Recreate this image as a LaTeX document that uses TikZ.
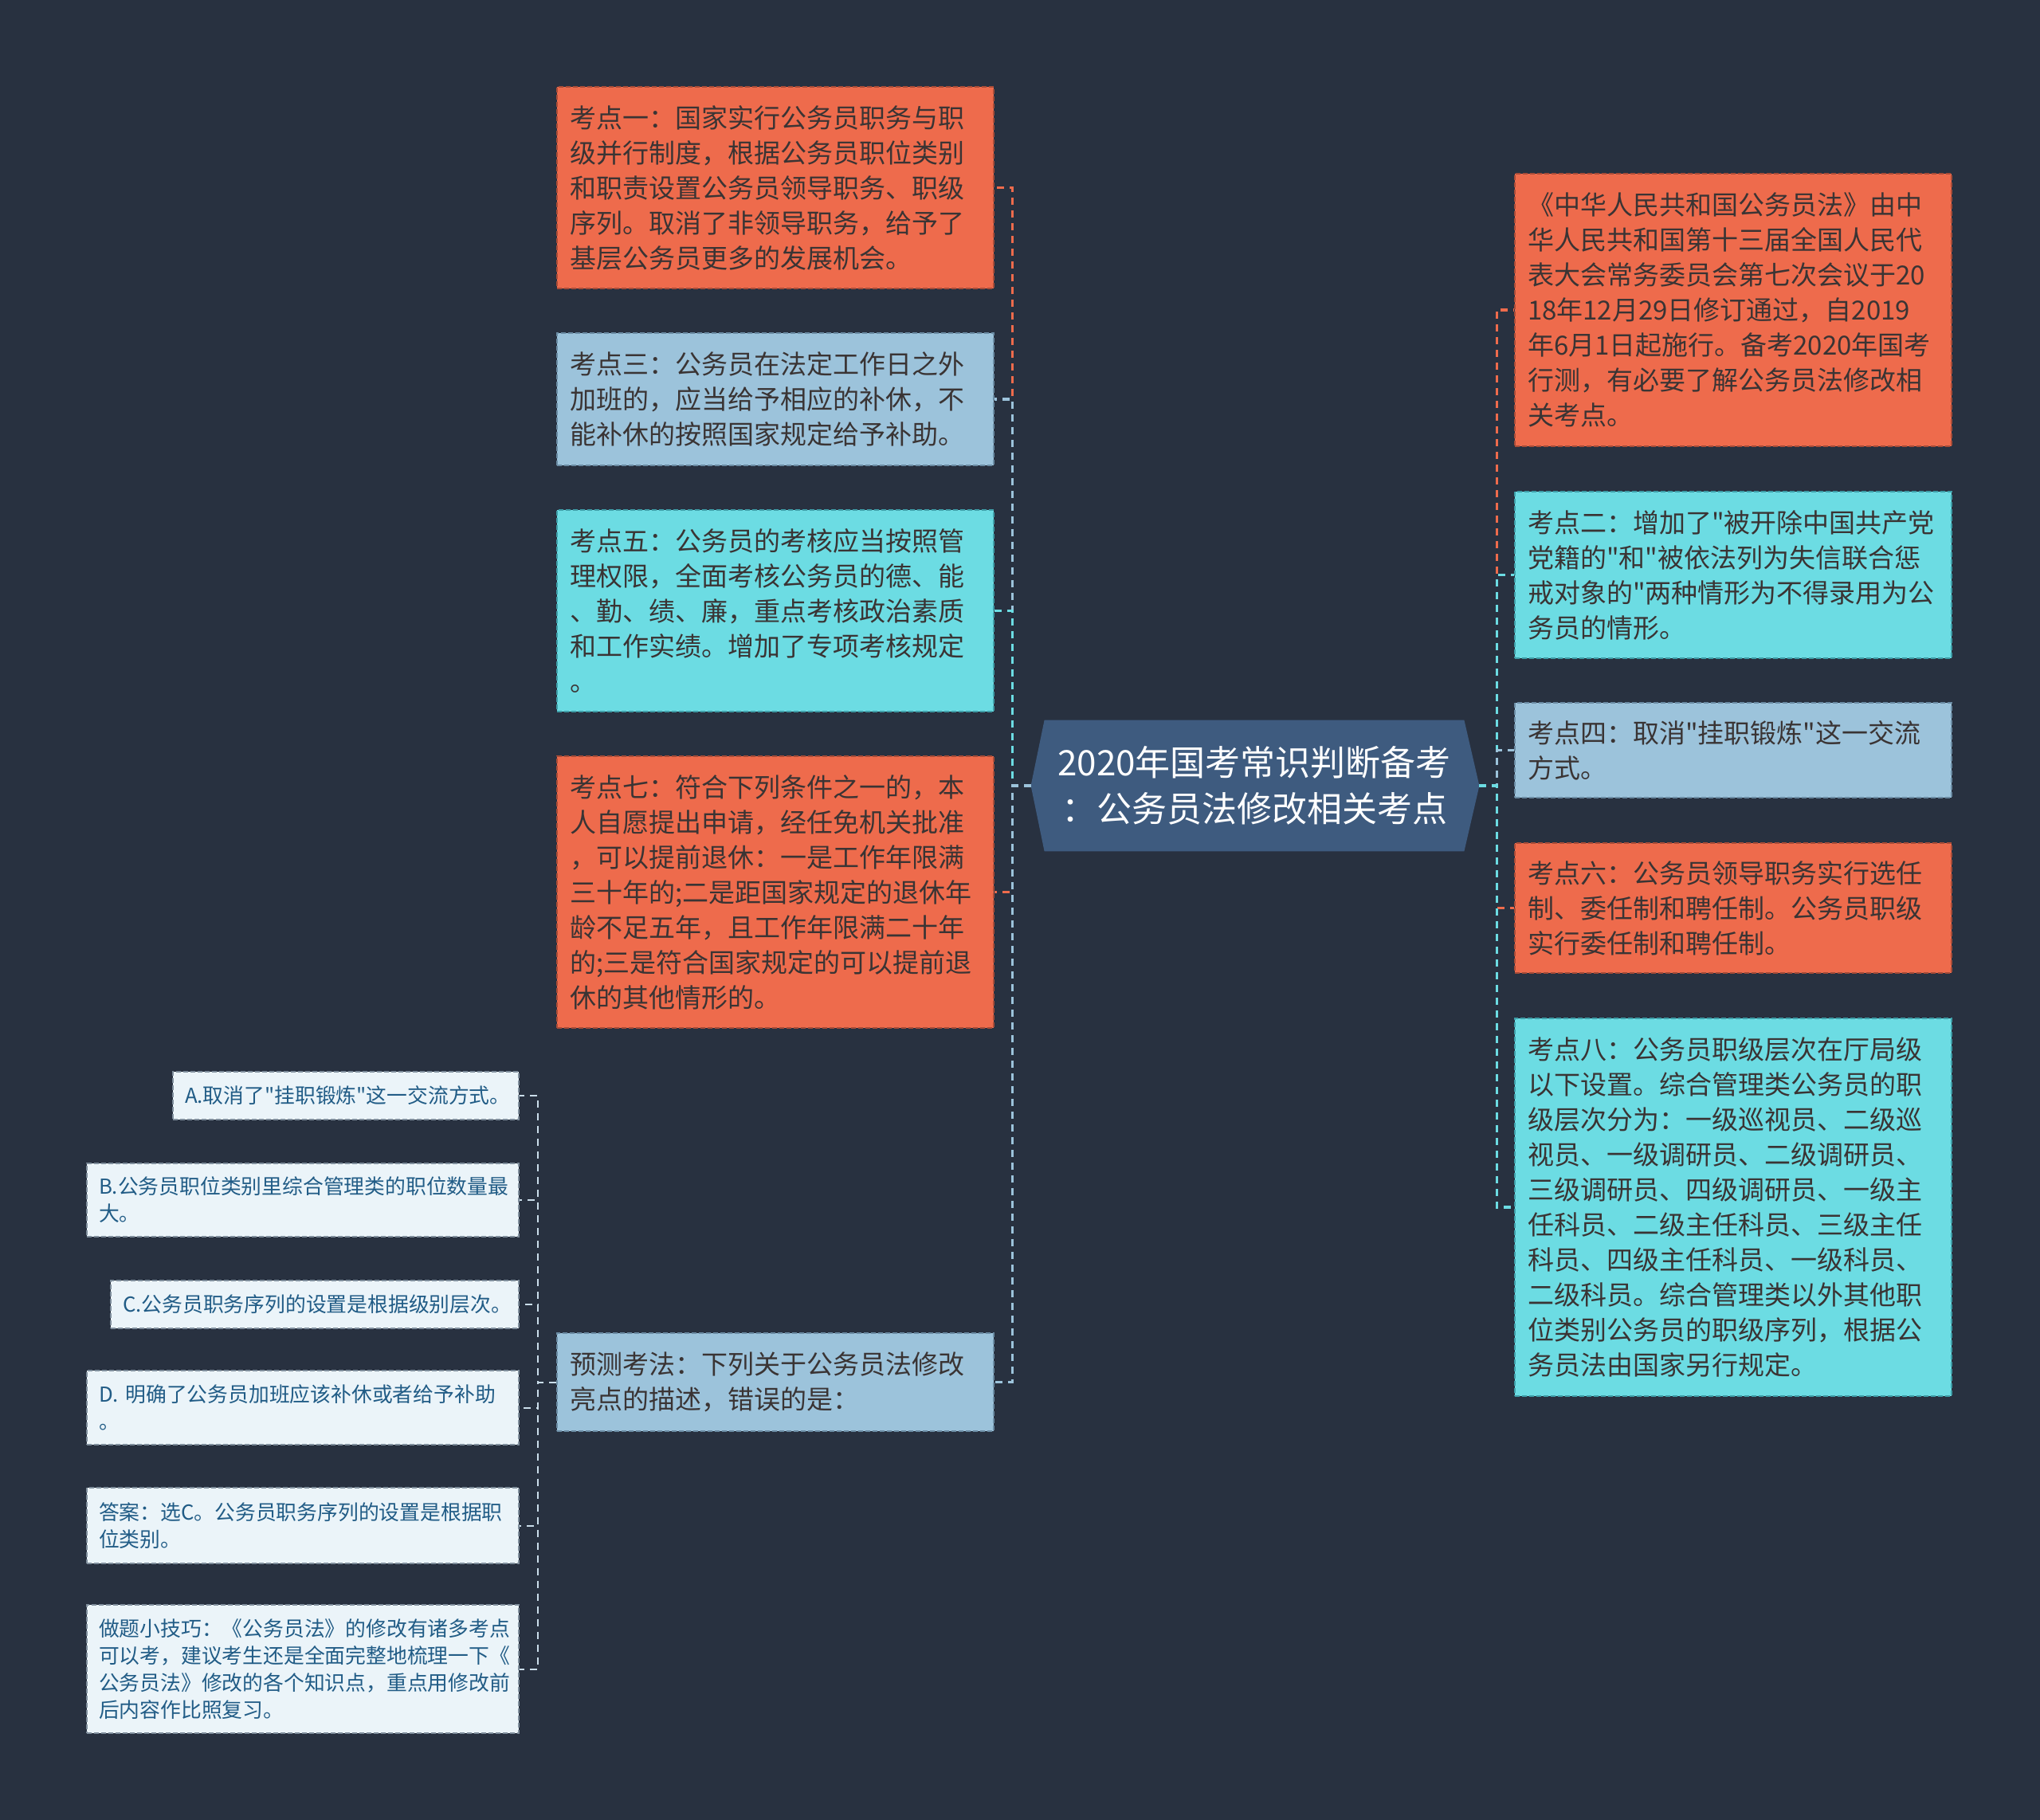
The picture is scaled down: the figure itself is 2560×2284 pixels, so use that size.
\documentclass[tikz,border=0pt]{standalone}
\usepackage{fontspec}
\setmainfont{Noto Sans CJK SC}[Ligatures=TeXOff]
\usetikzlibrary{calc}
\definecolor{bgc}{HTML}{283140}
\definecolor{corange}{HTML}{EE6B4C}
\definecolor{borange}{HTML}{A84C38}
\definecolor{csteel}{HTML}{9CC3DB}
\definecolor{bsteel}{HTML}{6A8BA3}
\definecolor{ccyan}{HTML}{6CDCE3}
\definecolor{bcyan}{HTML}{3E9EA8}
\definecolor{ccenter}{HTML}{3E5B7F}
\definecolor{cpale}{HTML}{EBF4F9}
\definecolor{bpale}{HTML}{7F8E9C}
\definecolor{tpale}{HTML}{215C86}
\definecolor{lpale}{HTML}{CADDEA}
\definecolor{tdark}{HTML}{3A3434}
\pgfdeclarelayer{bg}
\pgfsetlayers{bg,main}
\tikzset{
  mainbox/.style={rectangle, inner xsep=8pt, inner ysep=0pt, align=left,
    text width=258pt, minimum width=274pt, text=tdark,
    font=\fontsize{16.5pt}{22pt}\selectfont,
    line width=0.8pt, dash pattern=on 3pt off 1.5pt},
  orangebox/.style={mainbox, fill=corange, draw=borange},
  steelbox/.style={mainbox, fill=csteel, draw=bsteel},
  cyanbox/.style={mainbox, fill=ccyan, draw=bcyan},
  palebox/.style={rectangle, inner xsep=7.5pt, inner ysep=0pt, align=left,
    text=tpale, fill=cpale, draw=bpale,
    font=\fontsize{12.9pt}{17pt}\selectfont,
    line width=0.8pt, dash pattern=on 3pt off 1.5pt},
  centerbox/.style={rectangle, inner sep=0pt, align=center, text=white,
    minimum width=263pt, minimum height=82pt,
    font=\fontsize{22pt}{29pt}\selectfont},
  conn/.style={line width=1.6pt, dash pattern=on 4.5pt off 3.5pt},
  pconn/.style={line width=1pt, draw=lpale, dash pattern=on 4.5pt off 3.5pt}
}
\begin{document}
\begin{tikzpicture}[x=0.5pt,y=-0.5pt]
\begin{pgfonlayer}{bg}
\fill[bgc] (0,0) rectangle (2560,2284);
\end{pgfonlayer}
\useasboundingbox (0,0) rectangle (2560,2284);

% center
\node[centerbox] (c) at (1574,986) {2020年国考常识判断备考\\：公务员法修改相关考点};
\coordinate (cL) at ($(c.west)+(-17,0)$);
\coordinate (cR) at ($(c.east)+(19,0)$);
\begin{pgfonlayer}{bg}
\fill[ccenter] (c.north west) -- (cL) -- (c.south west) -- (c.south east) -- (cR) -- (c.north east) -- cycle;
\end{pgfonlayer}

% left column
\node[orangebox, minimum height=126.5pt] (k1) at (973,235.5) {考点一：国家实行公务员职务与职\\级并行制度，根据公务员职位类别\\和职责设置公务员领导职务、职级\\序列。取消了非领导职务，给予了\\基层公务员更多的发展机会。};
\node[steelbox, minimum height=83pt] (k3) at (973,501) {考点三：公务员在法定工作日之外\\加班的，应当给予相应的补休，不\\能补休的按照国家规定给予补助。};
\node[cyanbox, minimum height=126.5pt] (k5) at (973,766.5) {考点五：公务员的考核应当按照管\\理权限，全面考核公务员的德、能\\、勤、绩、廉，重点考核政治素质\\和工作实绩。增加了专项考核规定\\。};
\node[orangebox, minimum height=170.5pt] (k7) at (973,1119.5) {考点七：符合下列条件之一的，本\\人自愿提出申请，经任免机关批准\\，可以提前退休：一是工作年限满\\三十年的;二是距国家规定的退休年\\龄不足五年，且工作年限满二十年\\的;三是符合国家规定的可以提前退\\休的其他情形的。};
\node[steelbox, minimum height=61.5pt] (yc) at (973,1734.5) {预测考法：下列关于公务员法修改\\亮点的描述，错误的是：};

% right column
\node[orangebox, minimum height=171pt] (intro) at (2175,389) {《中华人民共和国公务员法》由中\\华人民共和国第十三届全国人民代\\表大会常务委员会第七次会议于20\\18年12月29日修订通过，自2019\\年6月1日起施行。备考2020年国考\\行测，有必要了解公务员法修改相\\关考点。};
\node[cyanbox, minimum height=104.5pt] (k2) at (2175,721.5) {考点二：增加了"被开除中国共产党\\党籍的"和"被依法列为失信联合惩\\戒对象的"两种情形为不得录用为公\\务员的情形。};
\node[steelbox, minimum height=59.5pt] (k4) at (2175,941.5) {考点四：取消"挂职锻炼"这一交流\\方式。};
\node[orangebox, minimum height=81.5pt] (k6) at (2175,1139.5) {考点六：公务员领导职务实行选任\\制、委任制和聘任制。公务员职级\\实行委任制和聘任制。};
\node[cyanbox, minimum height=237pt] (k8) at (2175,1515) {考点八：公务员职级层次在厅局级\\以下设置。综合管理类公务员的职\\级层次分为：一级巡视员、二级巡\\视员、一级调研员、二级调研员、\\三级调研员、四级调研员、一级主\\任科员、二级主任科员、三级主任\\科员、四级主任科员、一级科员、\\二级科员。综合管理类以外其他职\\位类别公务员的职级序列，根据公\\务员法由国家另行规定。};

% far left
\node[palebox, text width=202pt, minimum width=217pt, minimum height=30pt] (pa) at (434,1375) {A.取消了"挂职锻炼"这一交流方式。};
\node[palebox, text width=256pt, minimum width=271pt, minimum height=46pt] (pb) at (380,1506) {B.公务员职位类别里综合管理类的职位数量最\\大。};
\node[palebox, text width=241pt, minimum width=256pt, minimum height=30pt] (pc) at (395,1637) {C.公务员职务序列的设置是根据级别层次。};
\node[palebox, text width=256pt, minimum width=271pt, minimum height=46.5pt] (pd) at (380,1766.5) {D.~明确了公务员加班应该补休或者给予补助\\。};
\node[palebox, text width=256pt, minimum width=271pt, minimum height=47.5pt] (pe) at (380,1914.5) {答案：选C。公务员职务序列的设置是根据职\\位类别。};
\node[palebox, text width=256pt, minimum width=271pt, minimum height=80.5pt] (pf) at (380,2094.5) {做题小技巧：《公务员法》的修改有诸多考点\\可以考，建议考生还是全面完整地梳理一下《\\公务员法》修改的各个知识点，重点用修改前\\后内容作比照复习。};

% connectors left
\draw[conn, draw=corange] (cL) -- ++(-23,0) |- (k1.east);
\draw[conn, draw=csteel] (cL) -- ++(-23,0) |- (k3.east);
\draw[conn, draw=ccyan] (cL) -- ++(-23,0) |- (k5.east);
\draw[conn, draw=corange] (cL) -- ++(-23,0) |- (k7.east);
\draw[conn, draw=csteel] (cL) -- ++(-23,0) |- (yc.east);
% connectors right
\draw[conn, draw=corange] (cR) -- ++(22,0) |- (intro.west);
\draw[conn, draw=ccyan] (cR) -- ++(22,0) |- (k2.west);
\draw[conn, draw=csteel] (cR) -- ++(22,0) |- (k4.west);
\draw[conn, draw=corange] (cR) -- ++(22,0) |- (k6.west);
\draw[conn, draw=ccyan] (cR) -- ++(22,0) |- (k8.west);
% connectors far left
\draw[pconn] (yc.west) -- ++(-23,0) |- (pa.east);
\draw[pconn] (yc.west) -- ++(-23,0) |- (pb.east);
\draw[pconn] (yc.west) -- ++(-23,0) |- (pc.east);
\draw[pconn] (yc.west) -- ++(-23,0) |- (pd.east);
\draw[pconn] (yc.west) -- ++(-23,0) |- (pe.east);
\draw[pconn] (yc.west) -- ++(-23,0) |- (pf.east);
\end{tikzpicture}
\end{document}
